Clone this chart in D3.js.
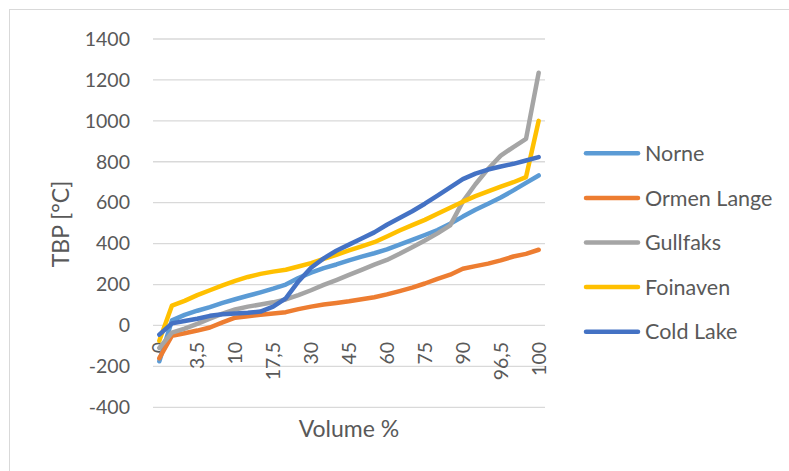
<!DOCTYPE html>
<html>
<head>
<meta charset="utf-8">
<script src="https://cdn.jsdelivr.net/npm/d3@7"></script>
<style>
  html, body { margin: 0; padding: 0; background: #fff; }
  svg { display: block; font-family: Lato, "Open Sans", sans-serif; }
</style>
</head>
<body>
<svg id="chart" width="789" height="471"></svg>
<script>
// Volume % cut points (category axis)
const categories = ["0","1","2","3,5","5","7,5","10","12,5","15","17,5","20","25","30","35","40","45","50","55","60","65","70","75","80","85","90","92,5","95","96,5","98","99","100"];

// TBP [°C] per crude
const norne      = [-175, 25, 52, 72, 90, 110, 128, 145, 162, 180, 200, 232, 258, 280, 298, 318, 336, 353, 372, 395, 418, 442, 466, 497, 532, 565, 595, 625, 660, 697, 733];
const ormenLange = [-160, -50, -38, -25, -10, 15, 38, 45, 52, 58, 65, 80, 92, 102, 110, 118, 128, 138, 152, 168, 185, 205, 228, 248, 277, 290, 302, 318, 337, 350, 370];
const gullfaks   = [-110, -35, -15, 8, 33, 58, 78, 92, 102, 113, 127, 148, 172, 198, 222, 247, 272, 297, 320, 350, 382, 415, 450, 489, 605, 690, 765, 830, 872, 912, 1235];
const foinaven   = [-75, 97, 120, 148, 172, 196, 218, 237, 252, 263, 272, 288, 305, 325, 345, 367, 387, 407, 435, 464, 490, 516, 546, 575, 605, 632, 655, 678, 700, 725, 1000];
const coldLake   = [-45, 10, 22, 33, 47, 55, 58, 62, 68, 92, 132, 215, 282, 328, 365, 395, 425, 455, 492, 525, 558, 595, 635, 675, 715, 742, 762, 777, 790, 806, 823];

const seriesNames  = ["Norne", "Ormen Lange", "Gullfaks", "Foinaven", "Cold Lake"];
const seriesValues = [norne, ormenLange, gullfaks, foinaven, coldLake];
const seriesColors = ["#5B9BD5", "#ED7D31", "#A5A5A5", "#FFC000", "#4472C4"];

const yTicks = [-400, -200, 0, 200, 400, 600, 800, 1000, 1200, 1400];
const xLabelEvery = 3;

const svg = d3.select("#chart");
const textColor = "#595959";
const gridColor = "#D9D9D9";

// chart frame
svg.append("rect")
  .attr("x", 9.5).attr("y", 9.5)
  .attr("width", 820).attr("height", 520)
  .attr("fill", "none").attr("stroke", gridColor).attr("stroke-width", 1);

const plot = { left: 153, right: 545, top: 39, bottom: 407.3 };

const x = d3.scaleBand().domain(categories).range([plot.left, plot.right]);
const y = d3.scaleLinear().domain([-400, 1400]).range([plot.bottom, plot.top]);
const cx = c => x(c) + x.bandwidth() / 2;

// horizontal gridlines
svg.append("g")
  .selectAll("line")
  .data(yTicks)
  .join("line")
  .attr("x1", plot.left).attr("x2", plot.right)
  .attr("y1", d => y(d)).attr("y2", d => y(d))
  .attr("stroke", gridColor).attr("stroke-width", 1.3);

// value axis labels (plain hyphen for negatives)
const yAxis = svg.append("g")
  .attr("transform", `translate(${plot.left},0)`)
  .call(d3.axisLeft(y).tickValues(yTicks).tickSize(0).tickPadding(23).tickFormat(d => String(d)));
yAxis.select(".domain").remove();
yAxis.selectAll("text")
  .attr("fill", textColor)
  .style("font-size", "19.5px")
  .style("font-family", "Lato, 'Open Sans', sans-serif");

// category axis labels, rotated, every third category
const xAxis = svg.append("g")
  .attr("transform", `translate(0,${y(0)})`)
  .call(d3.axisBottom(x)
    .tickValues(categories.filter((c, i) => i % xLabelEvery === 0))
    .tickSize(0));
xAxis.select(".domain").remove();
xAxis.selectAll(".tick text")
  .attr("fill", textColor)
  .style("font-size", "19.5px")
  .style("font-family", "Lato, 'Open Sans', sans-serif")
  .attr("text-anchor", "end")
  .attr("x", 0).attr("y", 0)
  .attr("dy", "0.36em")
  .attr("transform", "translate(0,16.5) rotate(-90)");

// series lines
const line = d3.line()
  .x((d, i) => cx(categories[i]))
  .y(d => y(d));

svg.append("g")
  .selectAll("path")
  .data(seriesValues)
  .join("path")
  .attr("d", d => line(d))
  .attr("fill", "none")
  .attr("stroke", (d, i) => seriesColors[i])
  .attr("stroke-width", 4.5)
  .attr("stroke-linejoin", "round")
  .attr("stroke-linecap", "round");

// axis titles
svg.append("text")
  .attr("transform", "translate(61,224) rotate(-90)")
  .attr("text-anchor", "middle")
  .attr("dy", "0.36em")
  .attr("fill", textColor)
  .style("font-size", "23px")
  .text("TBP [°C]");

svg.append("text")
  .attr("x", (plot.left + plot.right) / 2)
  .attr("y", 437)
  .attr("text-anchor", "middle")
  .attr("fill", textColor)
  .style("font-size", "23px")
  .text("Volume %");

// legend
const legend = svg.append("g");
const legendTop = 153.3, legendStep = 44.6;
const entries = legend.selectAll("g")
  .data(seriesNames)
  .join("g")
  .attr("transform", (d, i) => `translate(0,${legendTop + i * legendStep})`);
entries.append("line")
  .attr("x1", 586).attr("x2", 638)
  .attr("y1", 0).attr("y2", 0)
  .attr("stroke", (d, i) => seriesColors[i])
  .attr("stroke-width", 4.5)
  .attr("stroke-linecap", "round");
entries.append("text")
  .attr("x", 645).attr("y", 0)
  .attr("dy", "0.36em")
  .attr("fill", textColor)
  .style("font-size", "21.5px")
  .text(d => d);
</script>
</body>
</html>
